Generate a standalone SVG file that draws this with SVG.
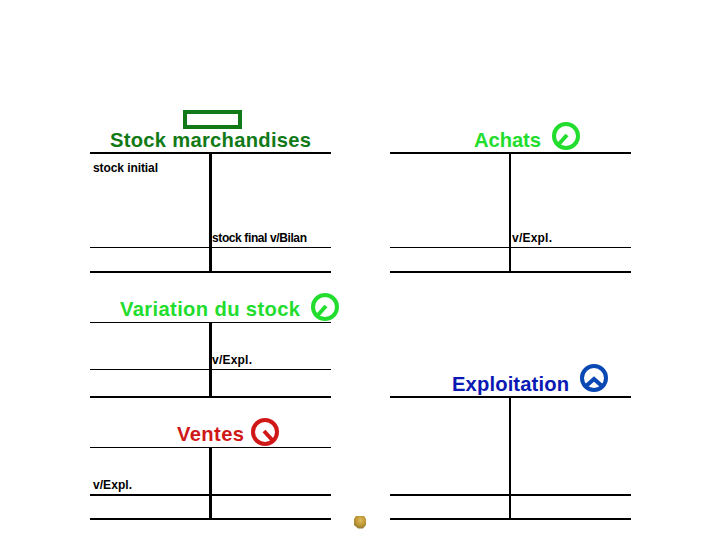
<svg xmlns="http://www.w3.org/2000/svg" width="720" height="540" viewBox="0 0 720 540">
<style>
text{font-family:"Liberation Sans",Arial,sans-serif;font-weight:bold}
.t{font-size:20.200px}
.s{font-size:12px;fill:#000}
.l{stroke:#000;fill:none}
.i{fill:none;stroke-width:4}
.dg{fill:#117a17}.g{fill:#22dd2e}.r{fill:#d01818}.b{fill:#0a18b4}
</style>
<defs><radialGradient id="ball" cx="0.55" cy="0.35" r="0.75"><stop offset="0" stop-color="#e0bc60"/><stop offset="0.6" stop-color="#b8922f"/><stop offset="1" stop-color="#7f7040"/></radialGradient></defs>
<rect width="720" height="540" fill="#fff"/>
<g id="connectors" class="l">
<path stroke-width="2" d="M90 153H331M90 272H331"/><path stroke-width="1" d="M90 247.500H331"/><path stroke-width="3" d="M210.500 153V272"/>
<path stroke-width="2" d="M390 153H631M390 272H631M510 153V272"/><path stroke-width="1" d="M390 247.500H631"/>
<path stroke-width="1" d="M90 322.500H331M90 369.500H331"/><path stroke-width="2" d="M90 397H331"/><path stroke-width="3" d="M210.500 322V397"/>
<path stroke-width="1" d="M90 447.500H331"/><path stroke-width="2" d="M90 495H331M90 519H331"/><path stroke-width="3" d="M210.500 447V519"/>
<path stroke-width="2" d="M390 397H631M390 495H631M390 519H631M510 397V519"/>
</g>
<g id="stock-marchandises">
<rect x="185" y="112" width="55" height="15" fill="none" stroke="#117a17" stroke-width="4"/>
<text class="t dg" x="110" y="147" textLength="201">Stock marchandises</text>
<text class="s" x="93" y="172" textLength="65">stock initial</text>
<text class="s" x="212" y="242" textLength="95">stock final v/Bilan</text>
</g>
<g id="achats">
<text class="t g" x="474" y="147" textLength="67">Achats</text>
<circle class="i" cx="566" cy="136" r="12" stroke="#22dd2e"/>
<path class="i" stroke="#22dd2e" d="M567 135L558 145"/>
<text class="s" x="512" y="242" textLength="40">v/Expl.</text>
</g>
<g id="variation-du-stock">
<text class="t g" x="120" y="316" textLength="180">Variation du stock</text>
<circle class="i" cx="325" cy="307" r="12" stroke="#22dd2e"/>
<path class="i" stroke="#22dd2e" d="M326 306L317 316"/>
<text class="s" x="212" y="364" textLength="40">v/Expl.</text>
</g>
<g id="ventes">
<text class="t r" x="177" y="441" textLength="67">Ventes</text>
<circle class="i" cx="265" cy="432" r="12" stroke="#d01818"/>
<path class="i" stroke="#d01818" d="M264 431L274 442"/>
<text class="s" x="93" y="489" textLength="39">v/Expl.</text>
</g>
<g id="exploitation">
<text class="t b" x="452" y="391" textLength="117">Exploitation</text>
<circle class="i" cx="594" cy="378" r="12" stroke="#0a48b4"/>
<path class="i" stroke="#0a48b4" d="M585 387L594 379L603 387"/>
</g>
<g id="bullet">
<path d="M356 516H364L366 519V525L363 528.500H358L354 525V519Z" fill="url(#ball)"/>
</g>
</svg>
